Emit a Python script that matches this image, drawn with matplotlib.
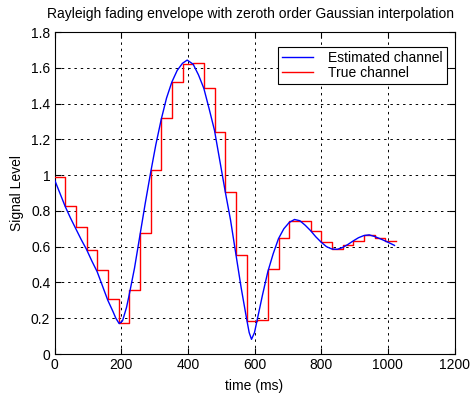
import matplotlib
matplotlib.use("Agg")
import matplotlib.pyplot as plt

plt.rcParams["font.family"] = ["Liberation Sans", "DejaVu Sans"]
plt.rcParams["font.size"] = 10

# -----------------------------
# data
# -----------------------------
# true channel: sample-and-hold, one value per 32 ms slot
step_edges = [0, 32, 64, 96, 128, 160, 192, 224, 256, 288, 320, 352, 384,
              416, 448, 480, 512, 544, 576, 608, 640, 672, 704, 736, 768,
              800, 832, 864, 896, 928, 960, 992, 1024]
true_level = [0.99, 0.828, 0.708, 0.581, 0.471, 0.307, 0.176, 0.355, 0.677,
              1.026, 1.317, 1.52, 1.622, 1.628, 1.485, 1.239, 0.904, 0.553,
              0.186, 0.19, 0.473, 0.647, 0.745, 0.745, 0.689, 0.624, 0.587,
              0.609, 0.633, 0.665, 0.647, 0.633]

# estimated channel (smooth curve)
est_t = [0, 16, 32, 48, 64, 80, 96, 112, 128, 144, 160, 176, 184, 194, 204,
         216, 224, 240, 256, 272, 288, 304, 320, 336, 352, 368, 384, 398,
         416, 432, 448, 464, 480, 496, 512, 528, 544, 560, 576, 584, 591,
         600, 608, 624, 640, 656, 672, 688, 704, 720, 736, 752, 768, 784,
         800, 816, 832, 848, 864, 880, 896, 912, 928, 944, 960, 976, 992,
         1008, 1020]
est_val = [0.975, 0.90, 0.825, 0.76, 0.70, 0.64, 0.585, 0.52, 0.46, 0.38,
           0.30, 0.235, 0.20, 0.17, 0.185, 0.26, 0.33, 0.48, 0.66, 0.84,
           1.01, 1.17, 1.31, 1.43, 1.52, 1.585, 1.625, 1.643, 1.62, 1.56,
           1.485, 1.37, 1.25, 1.08, 0.91, 0.75, 0.56, 0.37, 0.20, 0.12,
           0.082, 0.12, 0.19, 0.33, 0.46, 0.56, 0.645, 0.70, 0.735, 0.752,
           0.745, 0.72, 0.69, 0.655, 0.625, 0.60, 0.587, 0.585, 0.595,
           0.612, 0.632, 0.65, 0.662, 0.666, 0.657, 0.645, 0.632, 0.618,
           0.607]

x_ticks = [0, 200, 400, 600, 800, 1000, 1200]
y_ticks = [0, 0.2, 0.4, 0.6, 0.8, 1, 1.2, 1.4, 1.6, 1.8]
y_tick_labels = ["0", "0.2", "0.4", "0.6", "0.8", "1", "1.2", "1.4", "1.6", "1.8"]

fig = plt.figure(figsize=(4.71, 3.98), dpi=100)
ax = fig.add_axes([54.5 / 471, 44 / 398, 400 / 471, 322 / 398])

line_est, = ax.plot(est_t, est_val, color="#0000ff", lw=1.0, zorder=4,
                    label="Estimated channel")
line_true, = ax.step(step_edges, true_level + [true_level[-1]], where="post",
                     color="#ff0000", lw=1.0, zorder=3, label="True channel")

ax.set_xlim(0, 1200)
ax.set_ylim(0, 1.8)
ax.set_xticks(x_ticks)
ax.set_yticks(y_ticks)
ax.set_yticklabels(y_tick_labels)
ax.tick_params(direction="in", top=True, right=True, length=4, width=0.8,
               pad=3, colors="black")
ax.grid(True, color="black", linestyle=(0, (2.5, 4)), lw=0.7)
for s in ax.spines.values():
    s.set_linewidth(0.8)

ax.set_xlabel("time (ms)", labelpad=5)
ax.set_ylabel("Signal Level", labelpad=5)
ax.set_title("Rayleigh fading envelope with zeroth order Gaussian interpolation",
             fontsize=10, pad=10, x=0.49)

leg = ax.legend(handles=[line_est, line_true], loc="upper right",
                bbox_to_anchor=(0.9805, 0.954), borderaxespad=0,
                fancybox=False, framealpha=1, edgecolor="black",
                handlelength=2.2, handletextpad=1.1, labelspacing=0.05,
                borderpad=0.3)
leg.get_frame().set_linewidth(0.8)

fig.savefig("out.png", dpi=100, facecolor="white")
